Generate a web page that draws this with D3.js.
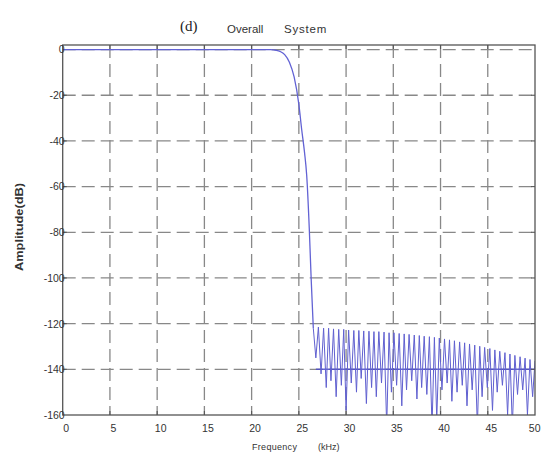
<!DOCTYPE html>
<html>
<head>
<meta charset="utf-8">
<script src="https://cdn.jsdelivr.net/npm/d3@7/dist/d3.min.js"></script>
<style>
  html, body { margin: 0; padding: 0; background: #fff; }
  svg { display: block; }
</style>
</head>
<body>
<svg id="chart" width="542" height="455"></svg>
<script>
// Passband and transition band of the overall system response (kHz, dB)
const passFreq = [0, 22.0, 22.6, 23.0, 23.5, 24.0, 24.5, 25.0, 25.3, 25.6, 25.83, 26.1, 26.3, 26.53];
const passDb   = [0, 0, -0.3, -0.8, -2.2, -5.5, -12, -24, -35, -45, -55, -78, -100, -122];

// Stopband lobes: nulls and the peaks that follow them
const nullFreq = [26.8, 27.35, 27.9, 28.4, 28.95, 29.5, 30.0, 30.55, 31.1, 31.6, 32.15, 32.7, 33.2, 33.75,
                  34.3, 34.8, 35.35, 35.9, 36.4, 36.95, 37.5, 38.0, 38.55, 39.1, 39.6, 40.15, 40.7, 41.2,
                  41.75, 42.3, 42.8, 43.35, 43.9, 44.4, 44.95, 45.5, 46.0, 46.55, 47.1, 47.6, 48.15, 48.7,
                  49.2, 49.75];
const nullDb   = [-135, -142, -148, -145, -152, -147, -158, -146, -150, -144, -155, -148, -152, -146,
                  -165, -150, -147, -156, -149, -145, -153, -148, -151, -165, -162, -149, -146, -154,
                  -150, -147, -156, -149, -165, -152, -148, -158, -150, -147, -160, -165, -151, -149,
                  -160, -152];
const peakFreq = [27.07, 27.62, 28.15, 28.67, 29.22, 29.75, 30.27, 30.82, 31.35, 31.87, 32.42, 32.95, 33.47, 34.02,
                  34.55, 35.07, 35.62, 36.15, 36.67, 37.22, 37.75, 38.27, 38.82, 39.35, 39.87, 40.42, 40.95, 41.47,
                  42.02, 42.55, 43.07, 43.62, 44.15, 44.67, 45.22, 45.75, 46.27, 46.82, 47.35, 47.87, 48.42, 48.95,
                  49.47, 50.0];
const peakDb   = [-121.5, -122, -122, -122.3, -122.5, -122.5, -122.8, -123, -123, -123.2, -123.3, -123.5, -123.5, -123.7,
                  -124, -124, -124.3, -124.5, -124.7, -125, -125.2, -125.5, -125.7, -126, -126.3, -126.7, -127.1, -127.5,
                  -128, -128.4, -128.9, -129.4, -129.9, -130.4, -130.9, -131.5, -132.1, -132.7, -133.3, -133.9, -134.5, -135.1,
                  -135.7, -136.3];

// Stopband floor level
const floorFreq = [26.8, 50];
const floorDb   = [-140, -140];

// Axis ticks
const xTicks = [0, 5, 10, 15, 20, 25, 30, 35, 40, 45, 50];
const yTicks = [0, -20, -40, -60, -80, -100, -120, -140, -160];

(function draw() {
  const svg = d3.select("#chart");
  const pL = 62.7, pR = 535, pT = 45, pB = 415;
  const sans = "Liberation Sans, Arial, sans-serif";

  const x = d3.scaleLinear().domain([0, 50]).range([pL, pR]);
  const y = d3.scaleLinear().domain([-160, 2]).range([pB, pT]);

  // Clip region for the curve
  svg.append("defs").append("clipPath").attr("id", "plotClip")
    .append("rect").attr("x", pL).attr("y", pT).attr("width", pR - pL).attr("height", pB - pT);

  // Dashed grid
  const grid = svg.append("g").attr("stroke", "#888").attr("stroke-width", 1.3)
    .attr("stroke-dasharray", "13,6").attr("fill", "none");
  xTicks.slice(1, -1).forEach(t => {
    grid.append("line").attr("x1", x(t)).attr("x2", x(t)).attr("y1", pT).attr("y2", pB);
  });
  yTicks.slice(0, -1).forEach(t => {
    grid.append("line").attr("x1", pL).attr("x2", pR).attr("y1", y(t)).attr("y2", y(t));
  });

  const plot = svg.append("g").attr("clip-path", "url(#plotClip)");

  // Passband and smooth roll-off
  const passPts = passFreq.map((f, i) => [f, passDb[i]]);
  plot.append("path")
    .datum(passPts)
    .attr("d", d3.line().x(d => x(d[0])).y(d => y(d[1])).curve(d3.curveMonotoneX))
    .attr("fill", "none").attr("stroke", "#6262d4").attr("stroke-width", 1.3);

  // Stopband ripple: alternating nulls and peaks
  const stopPts = [passPts[passPts.length - 1]];
  nullFreq.forEach((f, i) => {
    stopPts.push([f, nullDb[i]]);
    stopPts.push([peakFreq[i], peakDb[i]]);
  });
  const line = d3.line().x(d => x(d[0])).y(d => y(d[1]));

  plot.append("path")
    .datum(floorFreq.map((f, i) => [f, floorDb[i]]))
    .attr("d", line).attr("fill", "none")
    .attr("stroke", "#4a4ac8").attr("stroke-width", 1.4).attr("stroke-opacity", 0.85);

  plot.append("path")
    .datum(stopPts)
    .attr("d", line).attr("fill", "none")
    .attr("stroke", "#6060d0").attr("stroke-width", 1).attr("stroke-linejoin", "miter");

  // Axes box
  svg.append("rect").attr("x", pL).attr("y", pT).attr("width", pR - pL).attr("height", pB - pT)
    .attr("fill", "none").attr("stroke", "#555").attr("stroke-width", 1.3);

  // Inward tick marks on all four sides
  const tk = svg.append("g").attr("stroke", "#555").attr("stroke-width", 1.1);
  xTicks.slice(1, -1).forEach(t => {
    tk.append("line").attr("x1", x(t)).attr("x2", x(t)).attr("y1", pB).attr("y2", pB - 4);
    tk.append("line").attr("x1", x(t)).attr("x2", x(t)).attr("y1", pT).attr("y2", pT + 4);
  });
  yTicks.slice(1, -1).forEach(t => {
    tk.append("line").attr("x1", pL).attr("x2", pL + 4).attr("y1", y(t)).attr("y2", y(t));
    tk.append("line").attr("x1", pR).attr("x2", pR - 4).attr("y1", y(t)).attr("y2", y(t));
  });

  // Tick labels via d3 axes (plain hyphen minus)
  const fmt = d => String(d);
  const yAxis = d3.axisLeft(y).tickValues(yTicks).tickSize(0).tickPadding(-2).tickFormat(fmt);
  const gy = svg.append("g").attr("transform", `translate(${pL},0)`).call(yAxis);
  gy.select(".domain").remove();
  gy.selectAll("text").attr("font-family", sans).attr("font-size", 10.5).attr("fill", "#333");

  const xAxis = d3.axisBottom(x).tickValues(xTicks).tickSize(0).tickPadding(10).tickFormat(fmt);
  const gx = svg.append("g").attr("transform", `translate(3,${pB})`).call(xAxis);
  gx.select(".domain").remove();
  gx.selectAll("text").attr("font-family", sans).attr("font-size", 10.5).attr("fill", "#333");
  // keep the last label inside the page edge
  gx.selectAll(".tick").filter(d => d === 50).select("text")
    .attr("text-anchor", "end").attr("dx", 2);

  // Titles and axis labels
  svg.append("text").attr("x", 180).attr("y", 31)
    .attr("font-family", "Liberation Serif, Times New Roman, serif").attr("font-size", 15).attr("fill", "#222")
    .text("(d)");
  svg.append("text").attr("x", 227).attr("y", 33)
    .attr("font-family", sans).attr("font-size", 11.5).attr("fill", "#333")
    .text("Overall");
  svg.append("text").attr("x", 284).attr("y", 33)
    .attr("font-family", sans).attr("font-size", 11.5).attr("fill", "#333")
    .attr("letter-spacing", 0.8)
    .text("System");

  svg.append("text")
    .attr("transform", "translate(23,227) rotate(-90)")
    .attr("text-anchor", "middle")
    .attr("font-family", sans).attr("font-size", 11).attr("font-weight", "bold")
    .attr("fill", "#333").attr("textLength", 88).attr("lengthAdjust", "spacingAndGlyphs")
    .text("Amplitude(dB)");

  svg.append("text").attr("x", 252).attr("y", 450)
    .attr("font-family", sans).attr("font-size", 9).attr("fill", "#333")
    .attr("letter-spacing", 0.3)
    .text("Frequency");
  svg.append("text").attr("x", 318).attr("y", 450)
    .attr("font-family", sans).attr("font-size", 9).attr("fill", "#333")
    .text("(kHz)");
})();
</script>
</body>
</html>
